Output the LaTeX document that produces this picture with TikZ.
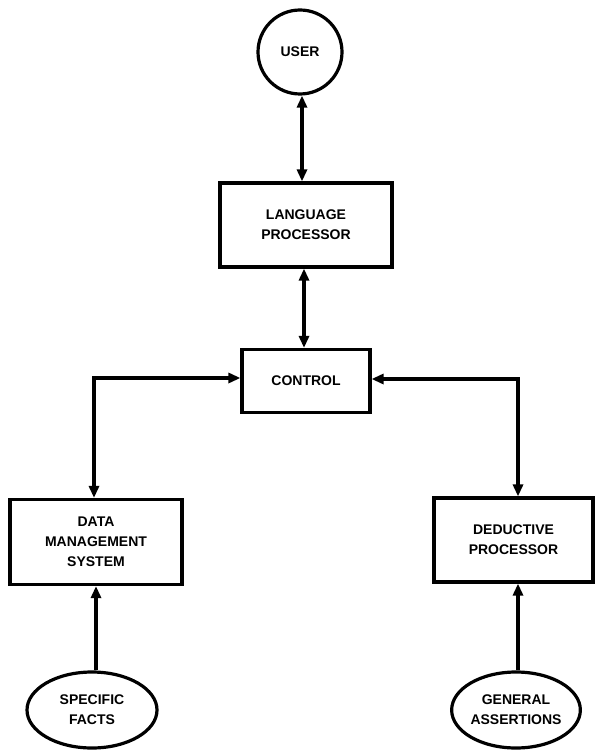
\documentclass[tikz,border=0pt]{standalone}
\usepackage{fontspec}
\setmainfont{Liberation Sans}
\usetikzlibrary{arrows.meta,shapes.geometric}
\begin{document}
\begin{tikzpicture}[x=1pt,y=-1pt,
  every node/.style={font=\bfseries\fontsize{14}{20}\selectfont, align=center, line width=3.2pt, inner sep=0pt},
  boxnode/.style={draw, rectangle},
  link/.style={line width=3.2pt, {Triangle[length=12pt,width=10pt]}-{Triangle[length=12pt,width=10pt]}},
  uplink/.style={line width=3.2pt, -{Triangle[length=12pt,width=10pt]}}]
\useasboundingbox (0,0) rectangle (595,751);
\node[draw, circle, minimum size=84pt] (user) at (300,52) {USER};
\node[boxnode, minimum width=172pt, minimum height=84pt] (lp) at (306,225) {LANGUAGE\\PROCESSOR};
\node[boxnode, minimum width=128pt, minimum height=63pt] (ctl) at (306,381) {CONTROL};
\node[boxnode, minimum width=172pt, minimum height=85pt] (dms) at (96,542) {DATA\\MANAGEMENT\\SYSTEM};
\node[boxnode, minimum width=159pt, minimum height=84pt] (ded) at (513.5,540) {DEDUCTIVE\\PROCESSOR};
\node[draw, ellipse, minimum width=130pt, minimum height=76pt] (sf) at (92,710) {SPECIFIC\\FACTS};
\node[draw, ellipse, minimum width=122pt, minimum height=76pt] (ga) at (516,710) {GENERAL\\ASSERTIONS};
\draw[link] ([xshift=2pt]user.south) -- ([xshift=2pt]user.south |- lp.north);
\draw[link] ([xshift=-2pt]lp.south) -- ([xshift=-2pt]ctl.north);
\draw[link] ([xshift=-2pt]dms.north) |- ([yshift=3pt]ctl.west);
\draw[link] ([xshift=4.5pt]ded.north) |- ([yshift=2pt]ctl.east);
\draw[uplink] (dms.south |- sf.north) -- (dms.south);
\draw[uplink] ([xshift=2pt]ga.north) -- ([xshift=2pt]ga.north |- ded.south);
\end{tikzpicture}
\end{document}
